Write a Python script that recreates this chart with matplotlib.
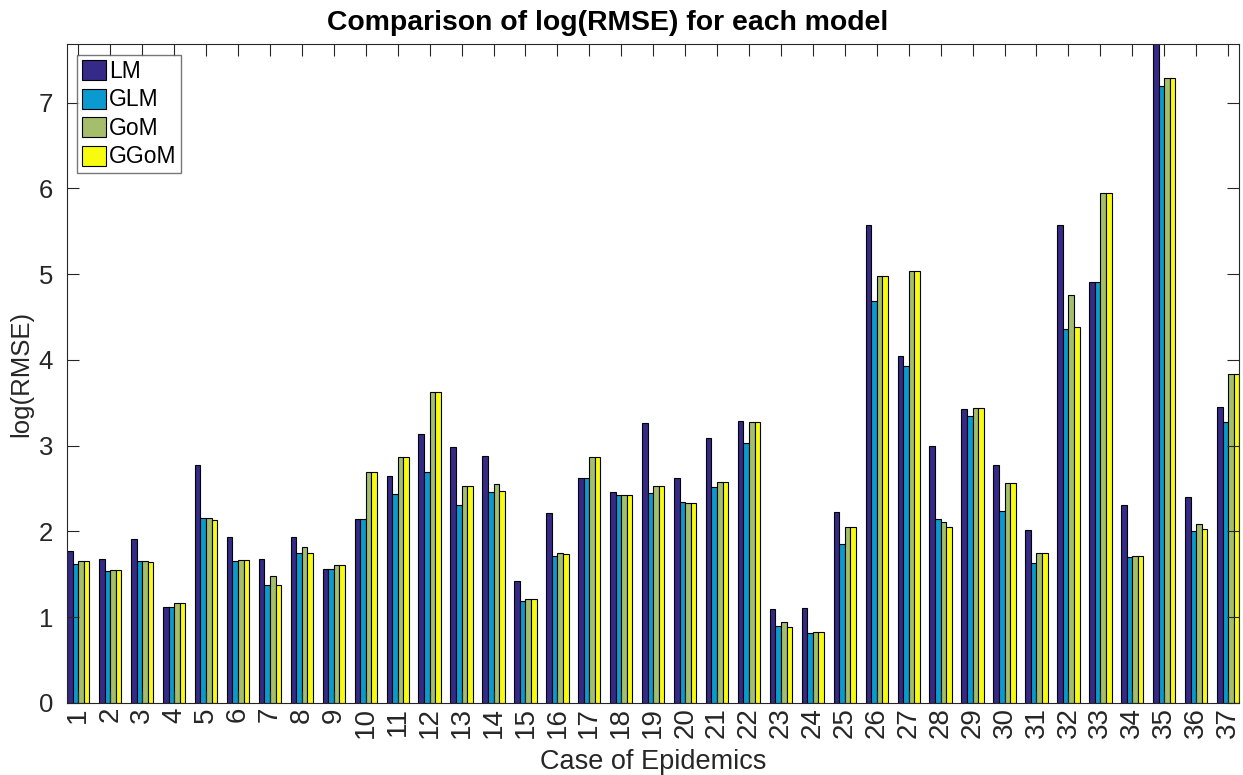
import numpy as np
import matplotlib
matplotlib.use('Agg')
import matplotlib.pyplot as plt

# log(RMSE) per case of epidemics
cases = list(range(1, 38))
lm = [1.77, 1.68, 1.91, 1.12, 2.77, 1.93, 1.68, 1.94, 1.56, 2.15,
      2.64, 3.13, 2.98, 2.88, 1.42, 2.21, 2.62, 2.46, 3.26, 2.62,
      3.09, 3.29, 1.10, 1.11, 2.23, 5.57, 4.04, 3.00, 3.43, 2.77,
      2.02, 5.57, 4.91, 2.31, 7.80, 2.40, 3.45]
glm = [1.62, 1.54, 1.65, 1.12, 2.16, 1.66, 1.37, 1.75, 1.56, 2.15,
       2.43, 2.69, 2.31, 2.46, 1.19, 1.71, 2.62, 2.42, 2.45, 2.34,
       2.52, 3.03, 0.90, 0.82, 1.85, 4.68, 3.93, 2.14, 3.34, 2.24,
       1.63, 4.36, 4.91, 1.70, 7.19, 2.00, 3.28]
gom = [1.66, 1.55, 1.65, 1.17, 2.16, 1.67, 1.48, 1.82, 1.61, 2.69,
       2.87, 3.62, 2.53, 2.55, 1.21, 1.75, 2.87, 2.42, 2.53, 2.33,
       2.58, 3.27, 0.94, 0.83, 2.05, 4.98, 5.03, 2.11, 3.44, 2.56,
       1.75, 4.76, 5.95, 1.71, 7.29, 2.09, 3.84]
ggom = [1.66, 1.55, 1.64, 1.17, 2.13, 1.67, 1.37, 1.75, 1.61, 2.69,
        2.87, 3.62, 2.53, 2.47, 1.21, 1.74, 2.87, 2.42, 2.53, 2.33,
        2.58, 3.27, 0.89, 0.83, 2.05, 4.98, 5.03, 2.05, 3.44, 2.56,
        1.75, 4.38, 5.95, 1.71, 7.29, 2.03, 3.84]
models = ['LM', 'GLM', 'GoM', 'GGoM']
colors = ['#352a87', '#0a9acf', '#a5be6b', '#f9fb0e']

plt.rcParams['font.family'] = ['Liberation Sans', 'DejaVu Sans']
txt = '#262626'

fig = plt.figure(figsize=(12.43, 7.75), dpi=100)
ax = fig.add_axes([0.054, 0.093, 0.943, 0.850])

x = np.array(cases)
w = 0.175
for k, (vals, c, name) in enumerate(zip([lm, glm, gom, ggom], colors, models)):
    ax.bar(x + (k - 1.5) * w, vals, width=w, color=c, edgecolor='black',
           linewidth=0.8, label=name)

ax.set_xlim(0.65, 37.35)
ax.set_ylim(0, 7.68)
ax.set_xticks(x)
ax.set_xticklabels([str(c) for c in cases], rotation=90, fontsize=20, color=txt)
ax.set_yticks(range(0, 8))
ax.set_yticklabels([str(v) for v in range(0, 8)], fontsize=18.5, color=txt)
ax.tick_params(direction='in', length=8.6, width=0.8, color=txt,
               top=True, right=True)
ax.tick_params(axis='x', pad=3)
ax.tick_params(axis='y', pad=10)
for s in ax.spines.values():
    s.set_color(txt)
    s.set_linewidth(0.8)

ax.set_xlabel('Case of Epidemics', fontsize=19.5, color=txt, va='center')
ax.xaxis.set_label_coords(0.5, -0.0895)
ax.set_ylabel('log(RMSE)', fontsize=18.5, color=txt, labelpad=4)
fig.text(0.489, 0.970, 'Comparison of log(RMSE) for each model', fontsize=20.4,
         fontweight='bold', ha='center', va='center')

leg = ax.legend(loc='upper left', bbox_to_anchor=(0.0088, 0.983),
                borderaxespad=0, fontsize=16.5, frameon=True, fancybox=False,
                handlelength=1.05, handleheight=0.97, handletextpad=0.12,
                labelspacing=0.24, borderpad=0.2)
leg.get_frame().set_edgecolor('#555555')
leg.get_frame().set_linewidth(1.0)

fig.savefig('out.png', dpi=100)
